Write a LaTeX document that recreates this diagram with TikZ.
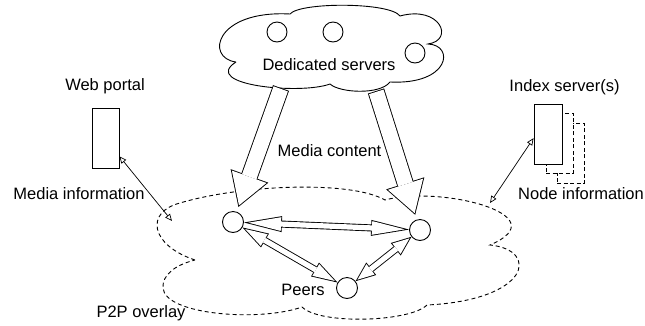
\documentclass[tikz,border=0pt]{standalone}
\usepackage{fontspec}
\setmainfont{Liberation Sans}
\usetikzlibrary{arrows.meta,calc}

\begin{document}
\begin{tikzpicture}[
  x=1pt, y=-1pt,
  every node/.style={font=\fontsize{16.5}{19.8}\selectfont},
  cloudline/.style={draw=black, line width=0.9pt},
  overlayline/.style={draw=black, line width=0.9pt, dash pattern=on 4pt off 3pt},
  server/.style={circle, draw=black, line width=0.9pt, minimum size=20pt, inner sep=0pt},
  peer/.style={circle, draw=black, line width=0.9pt, minimum size=21pt, inner sep=0pt, fill=white},
  box/.style={draw=black, line width=0.9pt, fill=white, inner sep=0pt, minimum width=27pt, minimum height=60pt},
  ghost/.style={box, dash pattern=on 4pt off 2.5pt},
  info/.style={line width=0.7pt, {Triangle[open,length=7pt,width=6pt]}-{Triangle[open,length=7pt,width=6pt]}},
  fatarr/.style={line width=17pt, shorten >=#1, -{Triangle[width=40pt,length=33pt,line width=0pt]},
    postaction={draw=white, line width=15.2pt, shorten <=0.9pt, shorten >=#1+1.74pt,
      -{Triangle[width=36.8pt,length=30.36pt,line width=0pt]}}},
  % #1 head length, #2 inner length, #3 inner width, #4 inset
  peerarr/.style n args={4}{line width=7pt,
    {Triangle[width=16pt,length=#1,line width=0pt]}-{Triangle[width=16pt,length=#1,line width=0pt]},
    postaction={draw=white, line width=5.2pt, shorten <=#4, shorten >=#4,
      {Triangle[width=#3,length=#2,line width=0pt]}-{Triangle[width=#3,length=#2,line width=0pt]}}}
]
\useasboundingbox (0,0) rectangle (645,325);

% P2P overlay
\draw[overlayline] (195,260) .. controls (150,245) and (145,212) .. (180,203)
  .. controls (240,185) and (350,180) .. (385,200)
  .. controls (440,185) and (560,215) .. (490,245)
  .. controls (540,250) and (530,300) .. (427,305)
  .. controls (410,322) and (320,325) .. (302,307)
  .. controls (260,322) and (165,315) .. (163,288)
  .. controls (162,275) and (175,265) .. (195,260);
\node (overlaylabel) at (141,313) {P2P overlay};

% dedicated servers
\draw[cloudline, fill=white] (236,62) .. controls (205,58) and (215,10) .. (290,14)
  .. controls (300,2) and (390,2) .. (400,16)
  .. controls (440,5) and (455,40) .. (428,44)
  .. controls (455,45) and (450,85) .. (390,82)
  .. controls (380,95) and (340,93) .. (330,84)
  .. controls (300,95) and (200,85) .. (236,62);
\node[server] (srv1) at (277,32) {};
\node[server] (srv2) at (333,32) {};
\node[server] (srv3) at (415,53) {};
\node (srvlabel) at (329,65) {Dedicated servers};

% web portal and index servers
\node (portallabel) at (105,86) {Web portal};
\node[box] (portal) at (105.5,138.5) {};
\node (indexlabel) at (564.5,87) {Index server(s)};
\node[ghost] (index2) at (570.5,153) {};
\node[ghost] (index1) at (559.5,143) {};
\node[box, minimum width=28pt] (index) at (548,134) {};
\node (medialabel) at (79,194) {Media information};
\node (nodelabel) at (581,194) {Node information};

% peers
\node[peer] (peerA) at (233,222) {};
\node[peer] (peerB) at (420,230) {};
\node[peer] (peerC) at (347,288) {};
\node (peerlabel) at (303,290) {Peers};

\coordinate (srcL) at (281,88);
\coordinate (srcR) at (376,91);
\coordinate (ovlW) at (172,221);
\coordinate (ovlE) at (490,203);

\draw[fatarr=5pt] (srcL) -- (peerA);
\draw[fatarr=5pt] (srcR) -- (peerB);
\node (contentlabel) at (329.5,151) {Media content};

\draw[peerarr={38pt}{32.73pt}{13.78pt}{4.37pt}] (peerA) -- (peerB);
\draw[peerarr={26pt}{22.04pt}{13.56pt}{3.06pt}] (peerA) -- (peerC);
\draw[peerarr={20pt}{16.68pt}{13.34pt}{2.42pt}] (peerC) -- (peerB);

\draw[info] (portal.-52) -- (ovlW);
\draw[info] (index.196) -- (ovlE);
\end{tikzpicture}
\end{document}
